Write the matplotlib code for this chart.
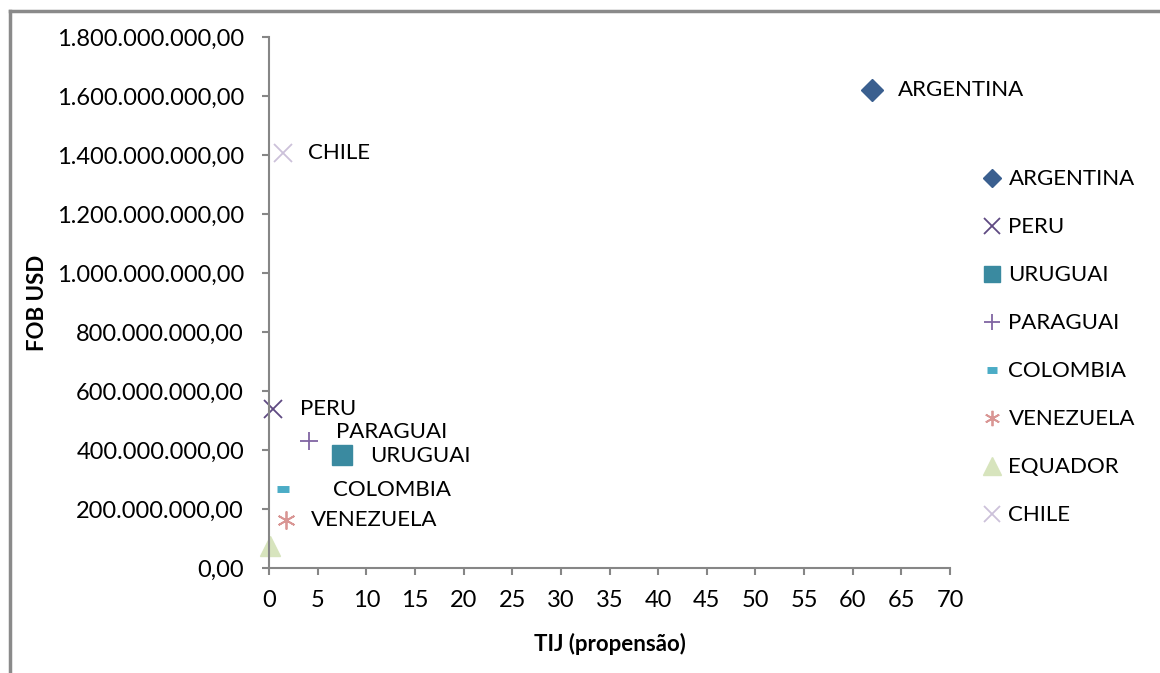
import matplotlib.pyplot as plt
from matplotlib.ticker import FuncFormatter
from matplotlib.lines import Line2D

plt.rcParams['font.family'] = ['Lato', 'DejaVu Sans']

paises = ['ARGENTINA', 'PERU', 'URUGUAI', 'PARAGUAI', 'COLOMBIA', 'VENEZUELA', 'EQUADOR', 'CHILE']
tij = [62.0, 0.4, 7.5, 4.1, 1.45, 1.75, 0.1, 1.45]
fob = [1620e6, 540e6, 383e6, 430e6, 268e6, 163e6, 75e6, 1408e6]

cores = ['#3A5F8F', '#5F4A82', '#3A8AA0', '#8064A2', '#4BACC6', '#D99694', '#D7E4BD', '#CCC1DA']
marcadores = ['D', 'x', 's', '+', '_', (6, 2, 0), '^', 'x']
tamanhos = [11, 13, 14, 13, 9, 13, 15, 13]
larguras = [1, 1.3, 1, 1.3, 5, 1.3, 1, 1.3]
# deslocamento dos rótulos (pixels)
desloc = [(26, 0), (27, 0), (28, -1), (27, 9), (50, -1), (25, 0), None, (25, 0)]


def fmt_br(v, pos):
    s = f'{v:,.2f}'
    return s.replace(',', 'X').replace('.', ',').replace('X', '.')


fig = plt.figure(figsize=(11.6, 6.73), dpi=100)
ax = fig.add_axes([0.2319, 0.156, 0.5871, 0.789])

for i, p in enumerate(paises):
    ax.plot(tij[i], fob[i], linestyle='none', marker=marcadores[i], color=cores[i],
            markersize=tamanhos[i], markeredgewidth=larguras[i], label=p, clip_on=False)
    if desloc[i] is not None:
        ax.annotate(p, (tij[i], fob[i]), xytext=desloc[i], textcoords='offset pixels',
                    ha='left', va='center', fontsize=16)

ax.set_xlim(0, 70)
ax.set_ylim(0, 1.8e9)
ax.set_xticks(range(0, 71, 5))
ax.set_yticks([i * 200e6 for i in range(10)])
ax.yaxis.set_major_formatter(FuncFormatter(fmt_br))

for s in ['top', 'right']:
    ax.spines[s].set_visible(False)
for s in ['left', 'bottom']:
    ax.spines[s].set_color('#868686')
    ax.spines[s].set_linewidth(1.5)
ax.tick_params(colors='#868686', labelcolor='black', labelsize=17, length=5, width=1.5)
ax.tick_params(axis='x', pad=11)
ax.tick_params(axis='y', pad=13)

ax.set_xlabel('TIJ (propensão)', fontsize=16, fontweight='bold')
ax.set_ylabel('FOB USD', fontsize=16, fontweight='bold')
ax.xaxis.set_label_coords(0.5, -0.122)
ax.yaxis.set_label_coords(-0.325, 0.5)

fig.legend(loc='upper left', bbox_to_anchor=(0.8387, 0.7615), frameon=False,
           fontsize=16, labelspacing=1.26, handlelength=0.9, handletextpad=0.3,
           borderaxespad=0, markerscale=0.85)

# moldura cinza
fig.add_artist(Line2D([10 / 1160, 10 / 1160], [0, 1 - 11 / 673], color='#8A8A8A', lw=2.5,
                      transform=fig.transFigure))
fig.add_artist(Line2D([10 / 1160, 1], [1 - 11 / 673, 1 - 11 / 673], color='#8A8A8A', lw=2.5,
                      transform=fig.transFigure))

fig.savefig('out.png', dpi=100)
